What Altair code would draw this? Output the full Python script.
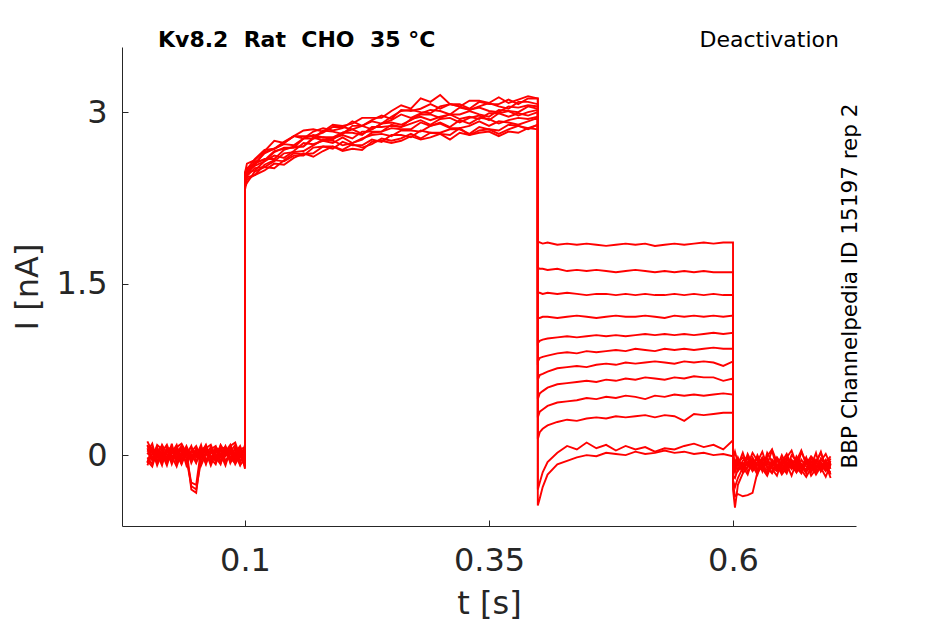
import altair as alt
import pandas as pd

# ---- time bases (s) for the four protocol segments ----
T_PRE = [0.000, 0.005, 0.010, 0.015, 0.020, 0.025, 0.030, 0.035, 0.040, 0.045, 0.050,
         0.055, 0.060, 0.065, 0.070, 0.075, 0.080, 0.085, 0.090, 0.095, 0.100]
T_ON = [0.100, 0.102, 0.11, 0.12, 0.13, 0.14, 0.15, 0.16, 0.17, 0.18, 0.19, 0.20, 0.21,
        0.22, 0.23, 0.24, 0.25, 0.26, 0.27, 0.28, 0.29, 0.30, 0.31, 0.32, 0.33, 0.34,
        0.35, 0.36, 0.37, 0.38, 0.39, 0.400]
T_TAIL = [0.400, 0.402, 0.405, 0.41, 0.42, 0.43, 0.44, 0.45, 0.46, 0.47, 0.48, 0.49,
          0.50, 0.51, 0.52, 0.53, 0.54, 0.55, 0.56, 0.57, 0.58, 0.59, 0.600]
T_POST = [0.600, 0.602, 0.605, 0.610, 0.615, 0.620, 0.625, 0.630, 0.635, 0.640, 0.645,
          0.650, 0.655, 0.660, 0.665, 0.670, 0.675, 0.680, 0.685, 0.690, 0.695, 0.700]

# ---- currents (nA), one row per sweep ----
PRE = [
    [0.09, -0.03, 0.06, -0.07, 0.03, 0.08, -0.05, 0.02, -0.06, 0.04, -0.02, 0.07, -0.04, 0.01, 0.06, -0.07, 0.03, 0.09, -0.02, 0.05, 0.07],
    [-0.06, 0.05, -0.09, 0.02, -0.04, 0.06, 0.01, -0.08, 0.03, -0.05, 0.02, -0.06, 0.08, -0.02, 0.03, 0.01, -0.09, 0.05, -0.04, 0.02, -0.07],
    [0.12, 0.03, -0.02, 0.09, 0.01, -0.06, 0.07, 0.10, 0.02, -0.03, 0.06, 0.02, 0.09, -0.05, 0.07, 0.03, -0.01, 0.08, 0.11, -0.02, 0.05],
    [-0.02, -0.08, 0.02, -0.05, 0.06, -0.01, -0.10, 0.03, -0.03, -0.27, -0.30, -0.05, 0.02, -0.07, 0.05, -0.02, 0.06, -0.06, 0.01, -0.09, -0.03],
    [0.03, 0.10, -0.06, 0.01, -0.09, 0.05, -0.02, 0.07, 0.00, 0.08, -0.06, 0.03, -0.08, 0.06, -0.03, 0.09, 0.02, -0.05, 0.07, 0.01, -0.10],
    [-0.09, 0.01, 0.07, -0.03, 0.05, -0.08, 0.03, -0.01, 0.08, -0.02, 0.05, -0.09, 0.01, 0.07, -0.06, 0.00, 0.08, -0.03, -0.07, 0.06, 0.02],
    [0.06, -0.05, 0.03, 0.08, -0.07, 0.02, 0.09, -0.06, 0.05, 0.01, -0.07, 0.06, 0.03, -0.09, 0.02, 0.07, -0.05, 0.01, 0.05, -0.08, 0.09],
    [0.01, 0.07, -0.07, 0.03, 0.09, -0.02, 0.05, -0.07, 0.07, -0.30, -0.33, 0.01, -0.06, 0.05, 0.08, -0.05, 0.00, 0.06, -0.06, 0.03, -0.01],
    [-0.05, -0.10, 0.05, -0.06, 0.02, 0.07, -0.03, 0.06, -0.09, 0.03, 0.08, -0.02, 0.05, -0.03, -0.08, 0.05, 0.07, -0.07, 0.02, 0.08, -0.05],
    [0.08, 0.02, -0.05, 0.06, -0.02, 0.01, 0.06, -0.03, 0.02, 0.07, -0.01, 0.09, -0.07, 0.03, 0.01, -0.06, 0.05, 0.02, -0.08, 0.00, 0.06],
    [-0.07, 0.06, 0.01, -0.09, 0.07, -0.05, 0.02, 0.08, -0.02, -0.24, -0.26, 0.05, 0.07, -0.01, -0.05, 0.08, -0.07, 0.03, 0.09, -0.05, -0.02],
    [0.02, -0.03, 0.09, 0.05, -0.06, 0.10, -0.08, 0.01, 0.06, -0.07, 0.03, -0.01, 0.06, 0.09, -0.02, -0.08, 0.06, -0.02, 0.03, 0.07, -0.12],
]

ON = [
    [2.47, 2.55, 2.58, 2.66, 2.75, 2.73, 2.79, 2.84, 2.85, 2.83, 2.89, 2.88, 2.90, 2.95, 2.95, 2.95, 3.01, 3.06, 3.03, 3.12, 3.09, 3.15, 3.07, 3.05, 3.10, 3.10, 3.08, 3.13, 3.08, 3.11, 3.14, 3.12],
    [2.35, 2.38, 2.48, 2.52, 2.51, 2.58, 2.64, 2.63, 2.64, 2.70, 2.70, 2.67, 2.72, 2.69, 2.72, 2.77, 2.75, 2.77, 2.81, 2.77, 2.82, 2.81, 2.80, 2.86, 2.80, 2.84, 2.85, 2.81, 2.85, 2.88, 2.85, 2.89],
    [2.40, 2.48, 2.53, 2.57, 2.65, 2.69, 2.69, 2.70, 2.77, 2.78, 2.76, 2.82, 2.82, 2.80, 2.87, 2.87, 2.88, 2.87, 2.94, 2.96, 2.93, 2.96, 2.98, 2.94, 2.96, 2.94, 2.99, 2.99, 3.01, 2.97, 3.00, 3.02],
    [2.47, 2.51, 2.55, 2.64, 2.68, 2.74, 2.79, 2.79, 2.79, 2.82, 2.87, 2.87, 2.85, 2.88, 2.92, 2.90, 2.96, 3.01, 3.02, 3.00, 2.99, 3.05, 3.07, 3.05, 3.02, 3.05, 3.08, 3.05, 3.03, 3.09, 3.09, 3.07],
    [2.32, 2.41, 2.45, 2.49, 2.55, 2.54, 2.60, 2.64, 2.61, 2.66, 2.70, 2.66, 2.68, 2.67, 2.74, 2.75, 2.73, 2.75, 2.79, 2.76, 2.78, 2.81, 2.76, 2.82, 2.80, 2.82, 2.83, 2.79, 2.83, 2.82, 2.86, 2.85],
    [2.42, 2.45, 2.55, 2.59, 2.59, 2.67, 2.70, 2.70, 2.78, 2.75, 2.77, 2.80, 2.77, 2.83, 2.83, 2.83, 2.89, 2.87, 2.90, 2.93, 2.89, 2.94, 2.95, 2.91, 2.95, 2.97, 2.93, 2.99, 2.96, 2.99, 2.97, 3.00],
    [2.45, 2.50, 2.54, 2.65, 2.68, 2.72, 2.71, 2.77, 2.77, 2.84, 2.83, 2.81, 2.88, 2.88, 2.85, 2.90, 2.93, 2.98, 2.95, 2.99, 3.02, 3.01, 2.98, 3.04, 3.02, 3.04, 3.01, 3.00, 3.05, 3.04, 3.06, 3.05],
    [2.35, 2.44, 2.51, 2.52, 2.57, 2.64, 2.65, 2.66, 2.71, 2.76, 2.75, 2.71, 2.73, 2.77, 2.80, 2.81, 2.79, 2.84, 2.84, 2.83, 2.88, 2.90, 2.86, 2.86, 2.88, 2.92, 2.88, 2.92, 2.91, 2.89, 2.92, 2.95],
    [2.42, 2.47, 2.57, 2.58, 2.66, 2.68, 2.69, 2.77, 2.80, 2.78, 2.78, 2.82, 2.85, 2.81, 2.85, 2.90, 2.91, 2.89, 2.93, 2.98, 2.98, 2.95, 2.98, 2.98, 3.01, 2.98, 2.96, 3.02, 3.01, 3.00, 3.05, 3.03],
    [2.36, 2.43, 2.45, 2.54, 2.58, 2.57, 2.62, 2.62, 2.69, 2.70, 2.68, 2.74, 2.71, 2.71, 2.76, 2.74, 2.80, 2.80, 2.78, 2.84, 2.82, 2.82, 2.85, 2.85, 2.81, 2.87, 2.85, 2.84, 2.89, 2.88, 2.86, 2.89],
    [2.38, 2.47, 2.49, 2.57, 2.62, 2.60, 2.66, 2.73, 2.72, 2.75, 2.73, 2.78, 2.73, 2.76, 2.82, 2.83, 2.86, 2.85, 2.85, 2.91, 2.88, 2.91, 2.87, 2.93, 2.90, 2.95, 2.94, 2.90, 2.93, 2.95, 2.94, 2.96],
    [2.46, 2.50, 2.59, 2.67, 2.68, 2.73, 2.79, 2.77, 2.83, 2.86, 2.84, 2.86, 2.92, 2.88, 2.93, 2.97, 2.94, 3.02, 3.01, 3.03, 3.07, 3.03, 3.07, 3.07, 3.03, 3.09, 3.07, 3.07, 3.11, 3.07, 3.12, 3.12],
]

TAIL = [
    [1.87, 1.86, 1.85, 1.86, 1.84, 1.85, 1.84, 1.85, 1.84, 1.83, 1.84, 1.85, 1.84, 1.85, 1.83, 1.84, 1.85, 1.84, 1.85, 1.86, 1.85, 1.86, 1.86],
    [1.64, 1.63, 1.63, 1.62, 1.63, 1.61, 1.62, 1.61, 1.62, 1.61, 1.60, 1.61, 1.62, 1.61, 1.60, 1.61, 1.60, 1.61, 1.60, 1.61, 1.60, 1.60, 1.60],
    [1.42, 1.42, 1.41, 1.42, 1.41, 1.42, 1.41, 1.40, 1.41, 1.41, 1.40, 1.41, 1.40, 1.41, 1.40, 1.40, 1.41, 1.40, 1.41, 1.40, 1.41, 1.40, 1.40],
    [1.20, 1.20, 1.21, 1.21, 1.20, 1.21, 1.22, 1.21, 1.20, 1.21, 1.22, 1.21, 1.21, 1.22, 1.21, 1.20, 1.22, 1.21, 1.22, 1.21, 1.22, 1.21, 1.22],
    [0.98, 1.00, 1.01, 1.02, 1.03, 1.04, 1.03, 1.04, 1.05, 1.04, 1.05, 1.04, 1.05, 1.06, 1.05, 1.06, 1.05, 1.06, 1.05, 1.06, 1.07, 1.06, 1.07],
    [0.82, 0.85, 0.86, 0.87, 0.89, 0.90, 0.89, 0.91, 0.90, 0.91, 0.92, 0.91, 0.93, 0.92, 0.91, 0.93, 0.92, 0.93, 0.92, 0.93, 0.94, 0.93, 0.93],
    [0.66, 0.70, 0.71, 0.73, 0.76, 0.77, 0.78, 0.77, 0.79, 0.80, 0.79, 0.81, 0.80, 0.81, 0.82, 0.81, 0.80, 0.82, 0.81, 0.82, 0.81, 0.78, 0.82],
    [0.49, 0.54, 0.56, 0.59, 0.62, 0.63, 0.64, 0.65, 0.64, 0.66, 0.65, 0.67, 0.66, 0.68, 0.67, 0.66, 0.68, 0.67, 0.69, 0.68, 0.68, 0.65, 0.67],
    [0.33, 0.38, 0.40, 0.43, 0.46, 0.47, 0.48, 0.50, 0.49, 0.51, 0.50, 0.52, 0.51, 0.49, 0.52, 0.51, 0.53, 0.52, 0.53, 0.52, 0.53, 0.54, 0.53],
    [0.14, 0.20, 0.23, 0.26, 0.29, 0.31, 0.30, 0.32, 0.33, 0.32, 0.34, 0.33, 0.34, 0.35, 0.33, 0.35, 0.34, 0.30, 0.36, 0.35, 0.36, 0.37, 0.37],
    [-0.44, -0.38, -0.28, -0.17, -0.08, -0.05, -0.02, 0.00, -0.01, 0.02, 0.01, 0.00, 0.03, 0.01, 0.02, 0.04, 0.02, 0.03, 0.01, 0.02, 0.00, 0.01, -0.01],
    [-0.30, -0.24, -0.15, -0.06, 0.02, 0.08, 0.05, 0.11, 0.06, 0.09, 0.04, 0.08, 0.05, 0.07, 0.03, 0.06, 0.05, 0.08, 0.10, 0.07, 0.09, 0.05, 0.13],
]

POST = [
    [-0.05, -0.10, -0.02, -0.12, 0.01, -0.08, -0.03, -0.14, 0.02, -0.06, -0.11, 0.00, -0.09, -0.04, -0.13, 0.03, -0.07, -0.02, -0.12, -0.05, 0.01, -0.09],
    [-0.12, -0.04, -0.09, 0.02, -0.10, -0.05, -0.15, -0.03, -0.08, 0.04, -0.12, -0.06, 0.01, -0.10, -0.04, -0.09, -0.16, -0.02, -0.07, 0.03, -0.11, -0.05],
    [0.02, -0.08, -0.13, -0.05, -0.01, -0.11, -0.06, 0.03, -0.10, -0.15, -0.04, -0.09, -0.02, 0.04, -0.08, -0.12, -0.03, -0.10, 0.02, -0.14, -0.06, -0.01],
    [-0.08, -0.15, -0.06, -0.10, -0.17, -0.04, -0.12, -0.07, -0.16, -0.09, -0.03, -0.14, -0.08, -0.18, -0.06, -0.11, -0.02, -0.15, -0.09, -0.13, -0.05, -0.17],
    [-0.03, 0.03, -0.07, -0.02, -0.09, 0.02, -0.05, -0.11, -0.01, 0.05, -0.06, -0.03, -0.12, 0.00, -0.05, 0.04, -0.08, -0.01, -0.06, 0.02, -0.10, -0.03],
    [-0.10, -0.06, -0.14, -0.08, -0.03, -0.13, -0.09, -0.02, -0.07, -0.12, -0.18, -0.05, -0.11, -0.08, -0.15, -0.04, -0.10, -0.14, -0.07, -0.11, -0.19, -0.08],
    [-0.14, -0.09, -0.04, -0.13, -0.07, -0.12, 0.00, -0.09, -0.13, -0.05, -0.10, -0.15, -0.06, -0.12, -0.01, -0.08, -0.13, -0.05, -0.15, -0.08, -0.12, -0.15],
    [-0.06, -0.12, -0.08, -0.15, -0.11, -0.02, -0.09, -0.13, -0.05, -0.10, -0.02, -0.08, -0.14, -0.07, -0.11, -0.16, -0.06, -0.12, -0.04, -0.09, -0.14, -0.07],
    [-0.18, -0.20, -0.12, -0.07, -0.14, -0.09, -0.17, -0.05, -0.11, -0.16, -0.08, -0.13, -0.04, -0.09, -0.15, -0.10, -0.05, -0.18, -0.12, -0.06, -0.13, -0.10],
    [-0.22, -0.28, -0.20, -0.11, -0.06, -0.14, -0.08, -0.12, -0.18, -0.07, -0.13, -0.10, -0.16, -0.05, -0.12, -0.08, -0.14, -0.09, -0.17, -0.10, -0.04, -0.12],
    [-0.30, -0.46, -0.26, -0.16, -0.10, -0.05, -0.13, -0.08, -0.03, -0.11, -0.14, -0.07, -0.02, -0.12, -0.09, -0.15, -0.04, -0.08, -0.13, -0.03, -0.09, -0.06],
    [-0.25, -0.36, -0.34, -0.36, -0.35, -0.33, -0.15, -0.10, -0.16, -0.04, -0.09, -0.17, -0.11, -0.07, -0.03, -0.13, -0.19, -0.11, -0.05, -0.14, -0.08, -0.20],
]

X_TICKS = [0.1, 0.35, 0.6]
Y_TICKS = [0, 1.5, 3]
X_DOMAIN = [-0.026, 0.726]
Y_DOMAIN = [-0.62, 3.57]

TITLE_LEFT = "Kv8.2\u00a0\u00a0Rat\u00a0\u00a0CHO\u00a0\u00a035 °C"
TITLE_RIGHT = "Deactivation"
SIDE_TEXT = "BBP Channelpedia ID 15197 rep 2"

# ---- build long table ----
rows = []
times = T_PRE + T_ON + T_TAIL + T_POST
for k in range(len(PRE)):
    vals = PRE[k] + ON[k] + TAIL[k] + POST[k]
    assert len(vals) == len(times), (k, len(PRE[k]), len(ON[k]), len(TAIL[k]), len(POST[k]))
    for i, (t, v) in enumerate(zip(times, vals)):
        rows.append({"sweep": k, "idx": i, "t": t, "I": v})
df = pd.DataFrame(rows)

FONT = "DejaVu Sans"
AX = "#262626"

xs = alt.Scale(domain=X_DOMAIN, nice=False, zero=False)
ys = alt.Scale(domain=Y_DOMAIN, nice=False, zero=False)

x_axis = alt.Axis(orient="bottom", values=X_TICKS, format=".2~f", ticks=False, grid=False,
                  domainColor=AX, domainWidth=1, labelFont=FONT, labelFontSize=32,
                  labelColor=AX, labelPadding=19, title="t [s]", titleFont=FONT,
                  titleFontSize=32, titleFontWeight="normal", titleColor=AX,
                  titleY=87, titleBaseline="alphabetic")
y_axis = alt.Axis(orient="left", values=Y_TICKS, format=".2~f", ticks=False, grid=False,
                  domainColor=AX, domainWidth=1, labelFont=FONT, labelFontSize=32,
                  labelColor=AX, labelPadding=15, title="I [nA]", titleFont=FONT,
                  titleFontSize=32, titleFontWeight="normal", titleColor=AX,
                  titleX=-85, titleY=239.5, titleAngle=270, titleAlign="center",
                  titleBaseline="alphabetic")

lines = alt.Chart(df).mark_line(color="#ff0000", strokeWidth=1.9, clip=True).encode(
    x=alt.X("t:Q", scale=xs, axis=x_axis),
    y=alt.Y("I:Q", scale=ys, axis=y_axis),
    detail="sweep:N",
    order="idx:Q",
)

# inward tick marks: a second, invisible layer whose axes sit 6px inside the frame
x_tick_axis = alt.Axis(orient="bottom", values=X_TICKS, offset=-6, labels=False,
                       domain=False, ticks=True, tickSize=6, tickColor=AX, tickWidth=1,
                       grid=False, title=None)
y_tick_axis = alt.Axis(orient="left", values=Y_TICKS, offset=-6, labels=False,
                       domain=False, ticks=True, tickSize=6, tickColor=AX, tickWidth=1,
                       grid=False, title=None)
ticks = alt.Chart(df).mark_line(strokeOpacity=0).encode(
    x=alt.X("t:Q", scale=xs, axis=x_tick_axis),
    y=alt.Y("I:Q", scale=ys, axis=y_tick_axis),
    detail="sweep:N",
    order="idx:Q",
)

ann = pd.DataFrame({"left": [TITLE_LEFT], "right": [TITLE_RIGHT], "side": [SIDE_TEXT]})
t_left = alt.Chart(ann).mark_text(font=FONT, fontSize=22, fontWeight="bold", color="black",
                                  align="left", baseline="alphabetic").encode(
    text="left:N", x=alt.value(36), y=alt.value(0))
t_right = alt.Chart(ann).mark_text(font=FONT, fontSize=22, color="black",
                                   align="right", baseline="alphabetic").encode(
    text="right:N", x=alt.value(717), y=alt.value(0))
t_side = alt.Chart(ann).mark_text(font=FONT, fontSize=21.5, color="black", angle=270,
                                  align="center", baseline="alphabetic").encode(
    text="side:N", x=alt.value(735), y=alt.value(239))

chart = alt.layer(lines, ticks, t_left, t_right, t_side).resolve_axis(
    x="independent", y="independent"
).properties(
    width=734, height=479,
    autosize=alt.AutoSizeParams(type="none"),
    padding={"left": 114, "top": 39, "right": 81, "bottom": 98},
    background="white",
).configure_view(stroke=None)

chart.save("out.html", embed_options={"renderer": "svg", "actions": False})
